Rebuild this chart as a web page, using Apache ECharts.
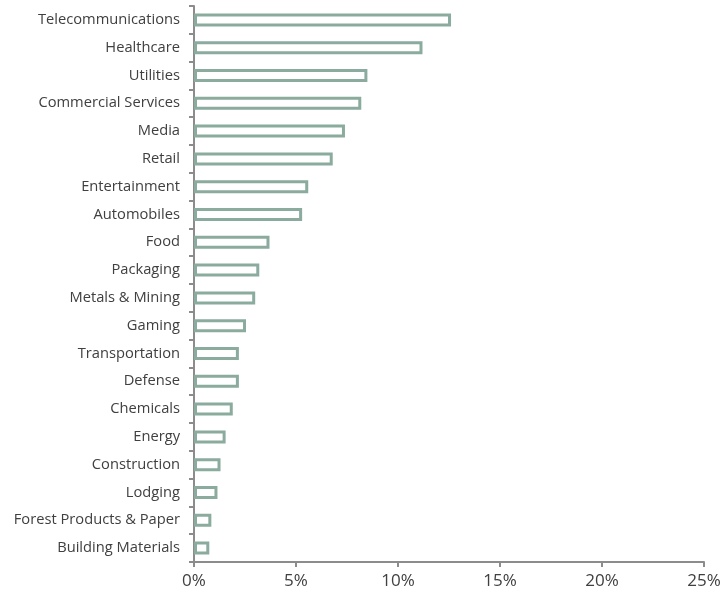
<!DOCTYPE html>
<html>
<head>
<meta charset="utf-8">
<script src="https://cdn.jsdelivr.net/npm/echarts@6/dist/echarts.min.js"></script>
<style>
html,body{margin:0;padding:0;background:#fff;}
#chart{width:724px;height:593px;}
</style>
</head>
<body>
<div id="chart"></div>
<script>
const categories = ["Telecommunications","Healthcare","Utilities","Commercial Services","Media","Retail","Entertainment","Automobiles","Food","Packaging","Metals & Mining","Gaming","Transportation","Defense","Chemicals","Energy","Construction","Lodging","Forest Products & Paper","Building Materials"];
const values = [12.6,11.2,8.5,8.2,7.4,6.8,5.6,5.3,3.7,3.2,3.0,2.55,2.2,2.2,1.9,1.55,1.3,1.15,0.85,0.75];
const xTicks = [0,5,10,15,20,25];

const chart = echarts.init(document.getElementById('chart'), null, {renderer:'canvas'});
chart.setOption({
  animation:false,
  grid:{left:194,right:20,top:6,bottom:31,containLabel:false},
  xAxis:{
    type:'value',min:xTicks[0],max:xTicks[xTicks.length-1],interval:5,
    axisLine:{show:true,lineStyle:{color:'#8c8c8c',width:2}},
    axisTick:{show:true,length:5,lineStyle:{color:'#8c8c8c',width:2}},
    splitLine:{show:false},
    axisLabel:{formatter:'{value}%',color:'#404040',fontSize:17,fontFamily:'Open Sans',margin:11}
  },
  yAxis:{
    type:'category',data:categories.slice().reverse(),
    axisLine:{show:true,lineStyle:{color:'#8c8c8c',width:2}},
    axisTick:{show:true,length:5,lineStyle:{color:'#8c8c8c',width:2}},
    axisLabel:{color:'#404040',fontSize:14.7,fontFamily:'Open Sans',margin:14}
  },
  series:[{
    type:'bar',data:values.slice().reverse(),barWidth:13,
    itemStyle:{color:'#ffffff',borderColor:'#8aab9d',borderWidth:3}
  }]
});
</script>
</body>
</html>
